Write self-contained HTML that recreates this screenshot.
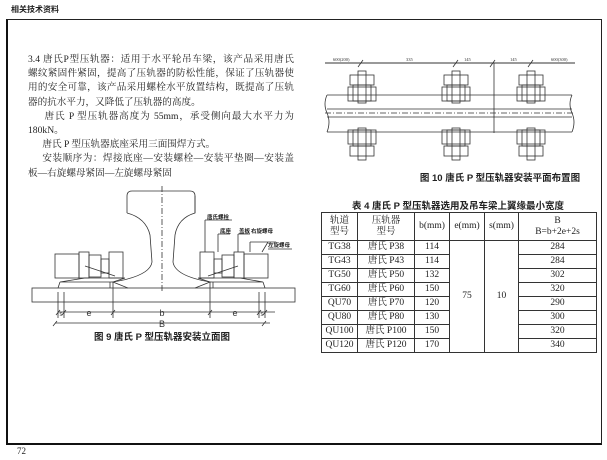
<!DOCTYPE html>
<html><head><meta charset="utf-8"><style>
body{margin:0;background:#fff;width:607px;height:460px;overflow:hidden;font-family:"Liberation Serif","Noto Serif CJK SC",serif;color:#222}
.p{position:absolute;left:28px;width:266px;font-size:9.6px;line-height:14.2px}
.p div{height:14.2px;white-space:nowrap;text-align:justify;text-align-last:justify}
.p div.l{text-align-last:left}
table{position:absolute;left:321px;top:212px;width:275px;border-collapse:collapse;font-size:9.5px;line-height:11px;text-align:center;table-layout:fixed}
td{border:1px solid #333;padding:0;height:13px;white-space:nowrap;overflow:hidden}
</style></head><body>
<div style="position:absolute;left:11px;top:4px;font:bold 8px 'Liberation Sans','Noto Sans CJK SC',sans-serif">相关技术资料</div>
<div style="position:absolute;left:6px;top:19px;width:593px;height:423px;border:1px solid #222;border-left:2px solid #111;border-bottom:2px solid #111"></div>
<div style="position:absolute;left:17px;top:446px;font-size:9px">72</div>
<div class="p" style="top:53px">
<div>3.4 唐氏P型压轨器：适用于水平轮吊车梁，该产品采用唐氏</div>
<div>螺纹紧固件紧固，提高了压轨器的防松性能，保证了压轨器使</div>
<div>用的安全可靠，该产品采用螺栓水平放置结构，既提高了压轨</div>
<div class="l">器的抗水平力，又降低了压轨器的高度。</div>
<div>&nbsp;&nbsp;&nbsp;&nbsp;&nbsp;唐氏 P 型压轨器高度为 55mm，承受侧向最大水平力为</div>
<div class="l">180kN。</div>
<div class="l">&nbsp;&nbsp;&nbsp;&nbsp;&nbsp;&nbsp;唐氏 P 型压轨器底座采用三面围焊方式。</div>
<div>&nbsp;&nbsp;&nbsp;&nbsp;&nbsp;安装顺序为：焊接底座—安装螺栓—安装平垫圈—安装盖</div>
<div class="l">板—右旋螺母紧固—左旋螺母紧固</div>
</div>
<svg width="607" height="460" style="position:absolute;left:0;top:0" font-family="Liberation Sans,Noto Sans CJK SC,sans-serif">
<defs><g id="c" stroke="#333" fill="none" stroke-width="0.8"><rect x="-12" y="-22" width="24" height="10"/><rect x="-9" y="-12" width="18" height="16"/><rect x="-14" y="-10" width="28" height="14"/><rect x="-4" y="-26" width="8" height="32"/></g></defs>
<g stroke="#333" fill="none" stroke-width="0.8">
<path d="M127,196 Q127,191 132,191 L190,191 Q195,191 195,196 L195,213 Q178,218 175,235 L173,262 Q175,276 210,282 L195,288 M127,213 Q146,218 150,235 L152,262 Q150,276 113,282 L128,288"/>
<path d="M127,196 L127,213 M195,196 L195,213"/>
<line x1="162" y1="186" x2="162" y2="293" stroke-dasharray="6,2,1,2"/>
<rect x="32" y="288" width="263" height="14"/>
<rect x="55" y="254" width="24" height="24"/><rect x="79" y="252" width="10" height="26"/><rect x="89" y="255" width="12" height="22"/><rect x="101" y="259" width="8" height="14"/><rect x="109" y="252" width="14" height="26"/>
<path d="M85,278 L125,278 L113,282 L60,282 Z M85,266 L115,276"/><path d="M60,282 L58,288 M110,282 L110,288"/>
<rect x="200" y="252" width="14" height="26"/><rect x="214" y="259" width="8" height="14"/><rect x="222" y="255" width="12" height="22"/><rect x="234" y="252" width="10" height="26"/><rect x="244" y="254" width="24" height="24"/>
<path d="M198,278 L240,278 L263,282 L210,282 Z M238,266 L208,276"/><path d="M263,282 L265,288 M213,282 L213,288"/>
<path d="M58,292 V318 M64,292 V318 M113,282 V318 M210,282 V318 M259,292 V318 M265,292 V318 M58,312 H275 M55,323 H270"/>
<path d="M56,315 l4,-5 M62,315 l4,-5 M111,315 l4,-5 M208,315 l4,-5 M257,315 l4,-5 M263,315 l4,-5 M53,326 l4,-5 M262,326 l4,-5"/>
<path d="M205,220 V252 M205,220 H232 M218,234 V252 M218,234 H230 M238,234 V252 M238,234 H250 M250,242 V252 M250,242 H276 M262,252 L268,242 M268,249 H292"/>
<path d="M325,63 H575" stroke-width="1"/>
<path d="M358,67 l5,-7 M453,67 l5,-7 M490,67 l5,-7 M528,67 l5,-7"/>
<line x1="494" y1="63" x2="494" y2="133"/>
<path d="M327,95 H572 M327,132 H572 M327,109 H572 M327,117 H572" />
<line x1="325" y1="113" x2="575" y2="113" stroke-dasharray="6,2,1,2"/>
<path d="M327,95 q-4,9 0,18 q4,9 0,19 M572,95 q-4,9 0,18 q4,9 0,19"/>
</g>
<use href="#c" x="362" y="97"/><use href="#c" x="456" y="97"/><use href="#c" x="531" y="97"/>
<use href="#c" transform="translate(362,134) scale(1,-1)"/><use href="#c" transform="translate(456,134) scale(1,-1)"/><use href="#c" transform="translate(531,134) scale(1,-1)"/>
<g font-size="4.5" fill="#333" font-family="Liberation Serif,serif">
<text x="333" y="61">600(200)</text><text x="406" y="61">335</text><text x="464" y="61">145</text><text x="510" y="61">145</text><text x="551" y="61">600(300)</text>
</g>
<g font-size="5.5" font-weight="bold" fill="#222">
<text x="207" y="219">唐氏螺栓</text><text x="220" y="233">底座</text><text x="239" y="233">盖板</text><text x="251" y="233">右旋螺母</text><text x="268" y="247">左旋螺母</text>
</g>
<g font-size="9" fill="#333" text-anchor="middle"><text x="89" y="316">e</text><text x="162" y="316">b</text><text x="235" y="316">e</text><text x="162" y="327">B</text><text x="61" y="316" font-size="6">s</text><text x="262" y="316" font-size="6">s</text></g>
<g font-size="9.5" font-weight="bold" fill="#222" text-anchor="middle">
<text x="162" y="340">图 9 唐氏 P 型压轨器安装立面图</text>
<text x="500" y="181">图 10 唐氏 P 型压轨器安装平面布置图</text>
<text x="458" y="209">表 4 唐氏 P 型压轨器选用及吊车梁上翼缘最小宽度</text>
</g>
</svg>
<table>
<colgroup><col style="width:36px"><col style="width:57px"><col style="width:35px"><col style="width:35px"><col style="width:34px"><col style="width:78px"></colgroup>
<tr><td style="height:27px">轨道<br>型号</td><td>压轨器<br>型号</td><td>b(mm)</td><td>e(mm)</td><td>s(mm)</td><td>B<br>B=b+2e+2s</td></tr>
<tr><td>TG38</td><td>唐氏 P38</td><td>114</td><td rowspan="8">75</td><td rowspan="8">10</td><td>284</td></tr>
<tr><td>TG43</td><td>唐氏 P43</td><td>114</td><td>284</td></tr>
<tr><td>TG50</td><td>唐氏 P50</td><td>132</td><td>302</td></tr>
<tr><td>TG60</td><td>唐氏 P60</td><td>150</td><td>320</td></tr>
<tr><td>QU70</td><td>唐氏 P70</td><td>120</td><td>290</td></tr>
<tr><td>QU80</td><td>唐氏 P80</td><td>130</td><td>300</td></tr>
<tr><td>QU100</td><td>唐氏 P100</td><td>150</td><td>320</td></tr>
<tr><td>QU120</td><td>唐氏 P120</td><td>170</td><td>340</td></tr>
</table>
</body></html>
